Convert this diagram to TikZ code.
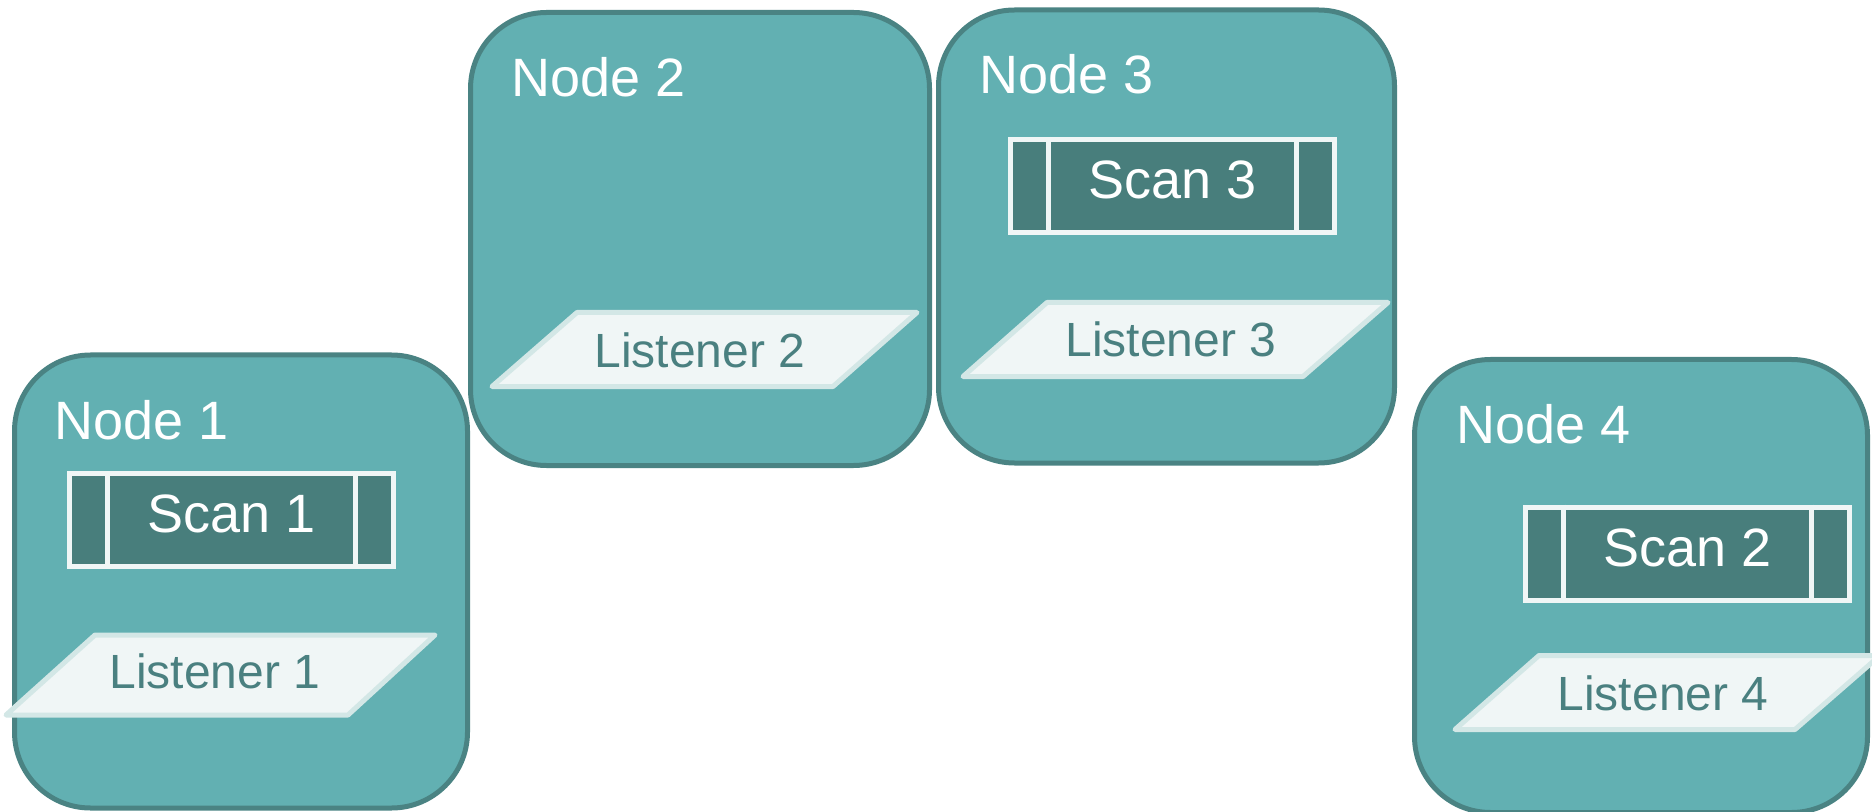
\documentclass[tikz,border=0pt]{standalone}
\usepackage{fontspec}
\setmainfont{Liberation Sans}
\usepackage{tikz}
\definecolor{hostfill}{RGB}{98,176,178}
\definecolor{hostline}{RGB}{74,131,131}
\definecolor{scanfill}{RGB}{72,126,124}
\definecolor{paper}{RGB}{240,246,246}
\definecolor{paperline}{RGB}{211,231,230}
\definecolor{listentext}{RGB}{74,128,128}

\begin{document}
\begin{tikzpicture}[x=0.5pt,y=-0.5pt,
  host/.style={draw=hostline, fill=hostfill, line width=2.5pt, rounded corners=38pt,
    inner sep=0pt, minimum width=226.5pt, minimum height=226.5pt},
  hostname/.style={anchor=base west, inner sep=0pt, text=white, font=\fontsize{27}{30}\selectfont},
  scanbox/.style={draw=paper, fill=scanfill, line width=2.5pt, inner sep=0pt,
    minimum width=162pt, minimum height=46.5pt},
  divider/.style={draw=paper, line width=2.5pt},
  scanname/.style={anchor=base, inner sep=0pt, text=white, font=\fontsize{27}{30}\selectfont},
  listener/.style={draw=paperline, fill=paper, line width=2.5pt, line join=round},
  listenname/.style={anchor=base, inner sep=0pt, text=listentext, font=\fontsize{24}{28}\selectfont}]
\useasboundingbox (0,0) rectangle (1872,812);

% the four hosts
\node[host] (n1) at (241,581.5) {};
\node[host, minimum width=229.5pt] (n2) at (700,239) {};
\node[host, minimum width=228pt] (n3) at (1166.5,236.5) {};
\node[host] (n4) at (1641,586) {};

\node[hostname] (n1name) at (54,439) {Node 1};
\node[hostname] (n2name) at (511,97) {Node 2};
\node[hostname] (n3name) at (979,94) {Node 3};
\node[hostname] (n4name) at (1456,443) {Node 4};

% scans
\node[scanbox] (s1) at (231.5,520) {};
\node[scanbox] (s3) at (1172.5,186) {};
\node[scanbox] (s2) at (1687.5,553.5) {};
\foreach \s in {s1,s2,s3} {
  \draw[divider] ([xshift=20.25pt]\s.north west) -- ([xshift=20.25pt]\s.south west);
  \draw[divider] ([xshift=-20.25pt]\s.north east) -- ([xshift=-20.25pt]\s.south east);
}
\node[scanname] (s1name) at ([yshift=-30.75pt]s1.north) {Scan 1};
\node[scanname] (s3name) at ([yshift=-30.75pt]s3.north) {Scan 3};
\node[scanname] (s2name) at ([yshift=-30.75pt]s2.north) {Scan 2};

% listeners
\draw[listener] (95,635) -- (435,635) -- (348,715) -- (6,715) -- cycle;
\draw[listener] (577,312.5) -- (917,312.5) -- (833,386.5) -- (492,386.5) -- cycle;
\draw[listener] (1047,302.5) -- (1388,302.5) -- (1303,376.5) -- (963,376.5) -- cycle;
\draw[listener] (1539,655.5) -- (1880,655.5) -- (1795,729.5) -- (1455,729.5) -- cycle;

\node[listenname] (l1) at (215,688) {Listener 1};
\node[listenname] (l2) at (700,367) {Listener 2};
\node[listenname] (l3) at (1171,357) {Listener 3};
\node[listenname] (l4) at (1663,710) {Listener 4};
\end{tikzpicture}
\end{document}
